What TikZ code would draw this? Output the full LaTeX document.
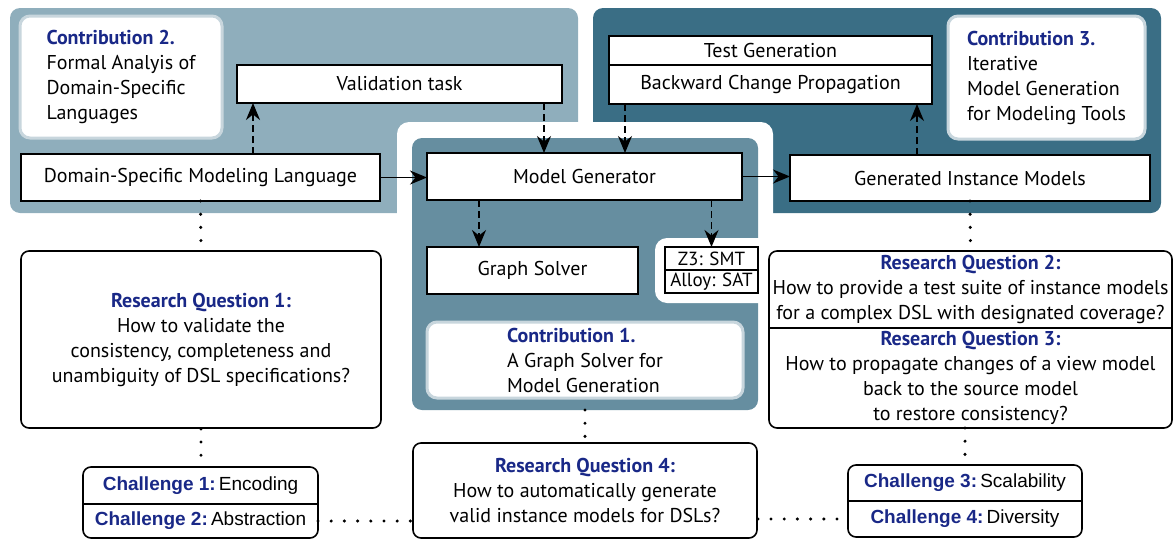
\documentclass[tikz,border=0pt]{standalone}
\usepackage{fontspec}
\setmainfont{PT Sans}
\newfontfamily\chfont{Liberation Sans}
\usepackage{tikz}
\usepackage{xcolor}
\usetikzlibrary{arrows.meta}
\usetikzlibrary{positioning}

\definecolor{lightregion}{RGB}{143,174,188}
\definecolor{midregion}{RGB}{102,142,160}
\definecolor{darkregion}{RGB}{58,110,133}
\definecolor{titleblue}{RGB}{25,40,135}
\definecolor{contribline}{RGB}{200,214,221}
\newcommand{\ctitle}[1]{{\color{titleblue}\bfseries #1}}

\begin{document}
\begin{tikzpicture}[-,>={Stealth[length=8.5pt,width=7pt]},x=0.5pt,y=-0.5pt,
                    font=\fontsize{10}{12.5}\selectfont,
                    task node/.style={draw,line width=0.9pt,fill=white,inner sep=0pt,outer sep=0pt},
                    contrib node/.style={draw=contribline,line width=1.5pt,fill=white,rounded corners=5pt,align=left,inner sep=0pt},
                    question node/.style={draw,line width=0.8pt,fill=white,rounded corners=4pt,align=center,inner sep=0pt},
                    challenge node/.style={inner sep=0pt,outer sep=0pt,font=\chfont\fontsize{9.5}{11}\selectfont},
                    dotlink/.style={line width=1.7pt,line cap=round,dash pattern=on 0pt off 6.6pt},
                    flow/.style={->,line width=0.8pt},
                    dflow/.style={->,line width=0.8pt,dash pattern=on 3.5pt off 2pt}]
  \useasboundingbox (0,0) rectangle (1173,541);

  % regions
  \fill[lightregion,rounded corners=5pt] (10,8) rectangle (578,213);
  \fill[darkregion,rounded corners=5pt] (593,8) rectangle (1161,213);
  \fill[white,rounded corners=6pt] (397,122) rectangle (773,230);
  \fill[midregion,rounded corners=5pt] (412,138) rectangle (758,410);
  \fill[white,rounded corners=6pt] (655,238) rectangle (775,303);
  \coordinate (midbottom) at (585,410);

  % tasks
  \node[task node,minimum width=179.5pt,minimum height=23.5pt] (dsml) at (200.5,177.5) {Domain-Specific Modeling Language};
  \node[task node,minimum width=162.5pt,minimum height=19pt] (valid) at (399.5,84) {Validation task};
  \node[task node,minimum width=157.5pt,minimum height=23.5pt] (gen) at (584.5,176.5) {Model Generator};
  \node[task node,minimum width=105.5pt,minimum height=23.5pt] (solver) at (532.5,270.5) {Graph Solver};
  \node[task node,minimum width=46.5pt,minimum height=11.5pt,font=\fontsize{9.5}{11}\selectfont] (smt) at (711.5,258.5) {Z3: SMT};
  \node[task node,minimum width=46.5pt,minimum height=11.5pt,font=\fontsize{9.5}{11}\selectfont,below=0pt of smt] (sat) {Alloy: SAT};
  \node[task node,minimum width=161.5pt,minimum height=14.5pt] (testgen) at (770.5,50.5) {Test Generation};
  \node[task node,minimum width=161.5pt,minimum height=19.5pt,below=0pt of testgen] (backprop) {Backward Change Propagation};
  \node[task node,minimum width=180pt,minimum height=23pt] (inst) at (970,178) {Generated Instance Models};

  % contributions
  \node[contrib node,minimum width=101pt,minimum height=61pt] (contrib2) at (121,77)
    {\ctitle{Contribution 2.}\\Formal Analyis of\\Domain-Specific\\Languages};
  \node[contrib node,minimum width=98.5pt,minimum height=61.5pt] (contrib3) at (1046.5,77.5)
    {\ctitle{Contribution 3.}\\Iterative\\Model Generation\\for Modeling Tools};
  \node[contrib node,minimum width=158pt,minimum height=38pt] (contrib1) at (585,360)
    {\ctitle{Contribution 1.}\\A Graph Solver for\\Model Generation};

  % research questions
  \node[question node,minimum width=180pt,minimum height=88.5pt] (rq1) at (201,339.5)
    {\ctitle{Research Question 1:}\\How to validate the\\consistency, completeness and\\unambiguity of DSL specifications?};
  \node[inner sep=0pt,outer sep=0pt,minimum width=201.5pt,minimum height=38.5pt,align=center] (rq2) at (970.5,289.5)
    {\ctitle{Research Question 2:}\\How to provide a test suite of instance models\\for a complex DSL with designated coverage?};
  \node[inner sep=0pt,outer sep=0pt,minimum width=201.5pt,minimum height=50pt,align=center,below=0pt of rq2] (rq3)
    {\ctitle{Research Question 3:}\\How to propagate changes of a view model\\back to the source model\\to restore consistency?};
  \draw[line width=0.8pt,rounded corners=4pt] (rq2.north west) rectangle (rq3.south east);
  \draw[line width=0.8pt] (rq2.south west) -- (rq2.south east);
  \node[question node,minimum width=172pt,minimum height=47.5pt] (rq4) at (585,490.5)
    {\ctitle{Research Question 4:}\\How to automatically generate\\valid instance models for DSLs?};

  % challenges
  \node[challenge node,minimum width=117.5pt,minimum height=18.5pt] (ch1) at (200.5,485.5) {\ctitle{Challenge 1:}\,Encoding};
  \node[challenge node,minimum width=117.5pt,minimum height=17pt,below=0pt of ch1] (ch2) {\ctitle{Challenge 2:}\,Abstraction};
  \draw[line width=0.8pt,rounded corners=4pt] (ch1.north west) rectangle (ch2.south east);
  \draw[line width=0.8pt] (ch1.south west) -- (ch1.south east);
  \node[challenge node,minimum width=117pt,minimum height=18pt] (ch3) at (965,483) {\ctitle{Challenge 3:}\,Scalability};
  \node[challenge node,minimum width=117pt,minimum height=18pt,below=0pt of ch3] (ch4) {\ctitle{Challenge 4:}\,Diversity};
  \draw[line width=0.8pt,rounded corners=4pt] (ch3.north west) rectangle (ch4.south east);
  \draw[line width=0.8pt] (ch3.south west) -- (ch3.south east);

  % arrows
  \draw[flow] (dsml.east) -- (dsml.east -| gen.west);
  \draw[flow] (gen.east) -- (gen.east -| inst.west);
  \draw[dflow] ([xshift=8pt]valid.south west |- dsml.north) -- ([xshift=8pt]valid.south west);
  \draw[dflow] ([xshift=-9pt]valid.south east) -- ([xshift=-9pt]valid.south east |- gen.north);
  \draw[dflow] ([xshift=8pt]backprop.south west) -- ([xshift=8pt]backprop.south west |- gen.north);
  \draw[dflow] ([xshift=-7.5pt]backprop.south east |- inst.north) -- ([xshift=-7.5pt]backprop.south east);
  \draw[dflow] ([xshift=26pt]gen.south west) -- ([xshift=26pt]gen.south west |- solver.north);
  \draw[dflow] (gen.south -| smt.north) -- (smt.north);

  % dotted links
  \draw[dotlink] (dsml.south) -- (rq1.north);
  \draw[dotlink] (rq1.south) -- (rq1.south |- ch1.north);
  \draw[dotlink] (inst.south) -- (rq2.north);
  \draw[dotlink] (rq3.south -| ch3.north) -- (ch3.north);
  \draw[dotlink] (midbottom) -- (rq4.north);
  \draw[dotlink] (ch2.east) -- (ch2.east -| rq4.west);
  \draw[dotlink] (rq4.east |- ch4.east) -- (ch4.west);
\end{tikzpicture}
\end{document}
